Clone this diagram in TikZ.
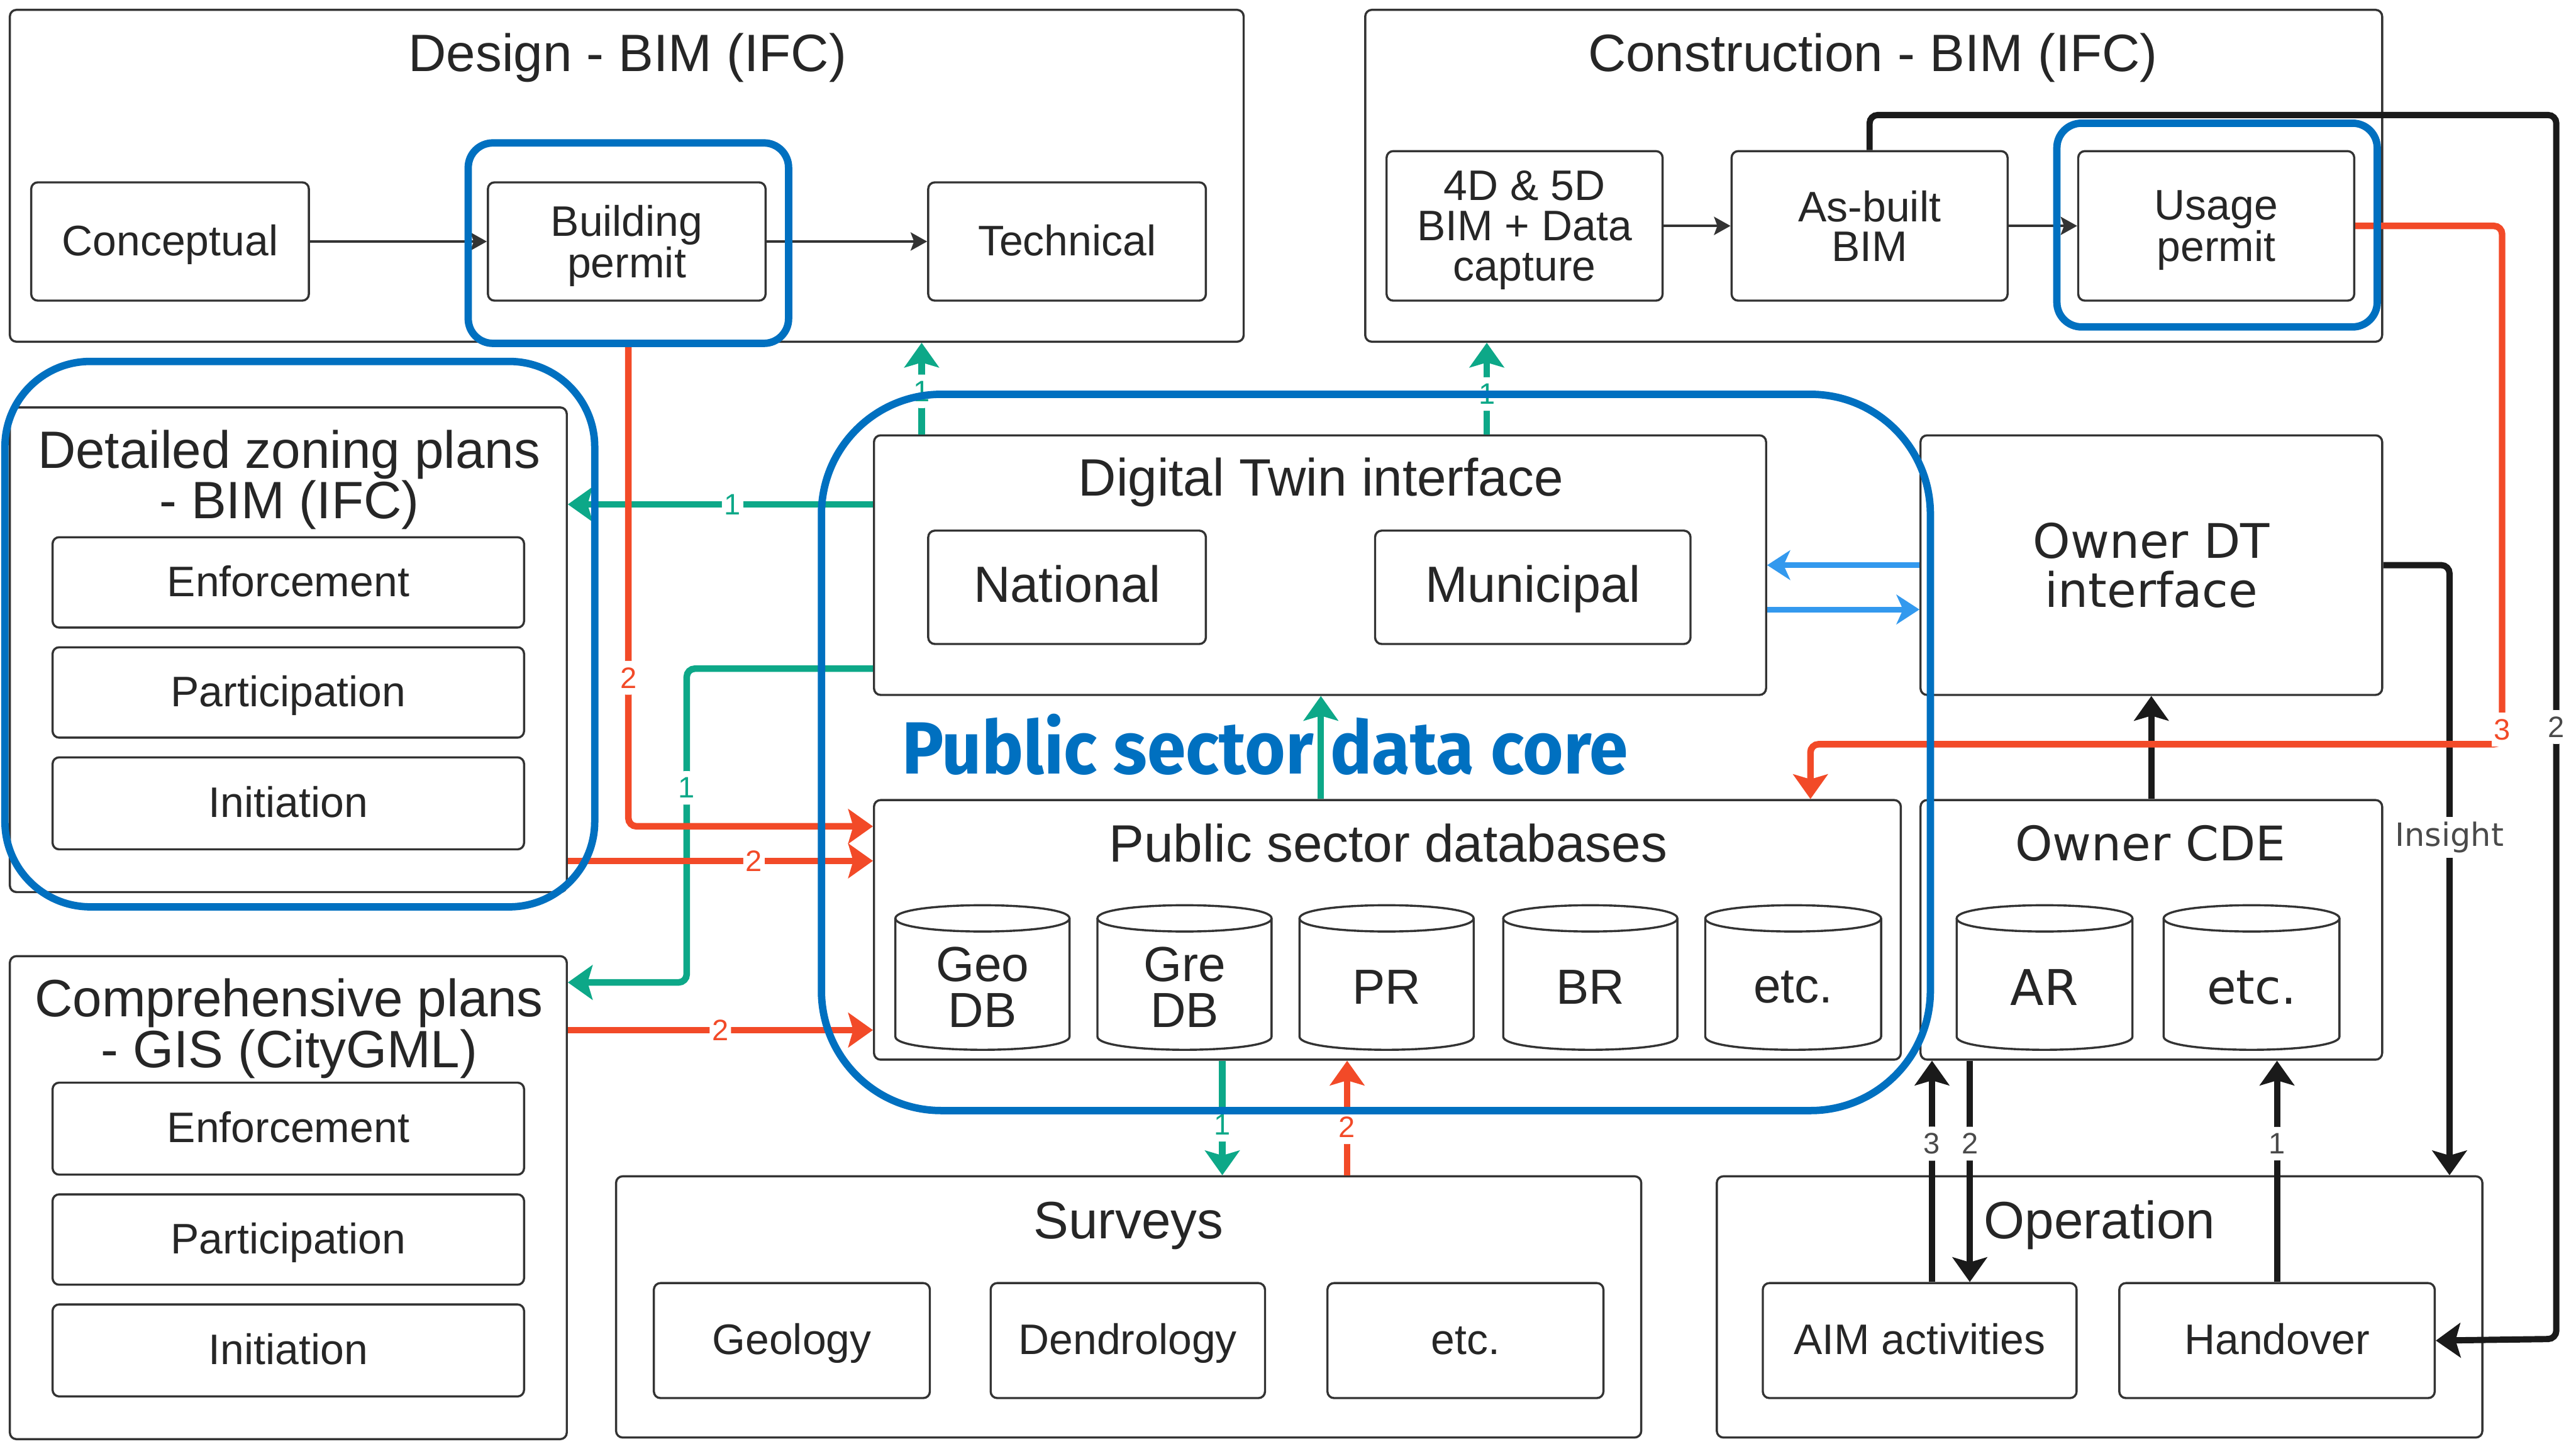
\documentclass[tikz,border=0pt]{standalone}
\usepackage{fontspec}
\usepackage{graphicx}
\setmainfont{Liberation Sans}
\newfontfamily\ownerfont{DejaVu Sans}
\newfontfamily\corefont{Fira Sans}
\usetikzlibrary{arrows.meta}

\definecolor{boxline}{HTML}{333333}
\definecolor{txt}{HTML}{262626}
\definecolor{hlblue}{HTML}{0070C0}
\definecolor{flowgreen}{HTML}{0DA888}
\definecolor{flowred}{HTML}{F24A28}
\definecolor{linkblue}{HTML}{3399EE}
\definecolor{flowblack}{HTML}{1A1A1A}
\definecolor{numgray}{HTML}{4A4A4A}

\pgfdeclarelayer{front}
\pgfsetlayers{main,front}

\tikzset{
  panel/.style={draw=boxline, line width=1.3pt, rounded corners=4pt, inner sep=0pt,
    align=center, text=txt, font=\fontsize{26}{24}\selectfont},
  oneline/.style={text height=21pt, text depth=4pt},
  nodepth/.style={text depth=0pt},
  hilite/.style={draw=hlblue, line width=4.5pt, rounded corners=#1},
  ttl/.style={text=txt, inner sep=0pt, align=center, font=\fontsize{32}{29}\selectfont},
  cylline/.style={draw=boxline, line width=1.3pt},
  cyltext/.style={text=txt, inner sep=0pt, align=center, font=\fontsize{30}{28}\selectfont},
  bigtip/.style={-{Stealth[length=15pt,width=21pt,inset=3pt]}},
  greenflow/.style={draw=flowgreen, line width=4pt, rounded corners=5pt, bigtip},
  redflow/.style={draw=flowred, line width=4pt, rounded corners=5pt, bigtip},
  blackflow/.style={draw=flowblack, line width=3.8pt, rounded corners=5pt, bigtip},
  blueflow/.style={draw=linkblue, line width=3.5pt, -{Stealth[length=14pt,width=18pt,inset=4pt]}},
  thinflow/.style={draw=boxline, line width=1.7pt, -{Stealth[length=10pt,width=11pt,inset=2pt]}},
  numlbl/.style={fill=white, inner xsep=1.5pt, inner ysep=4pt, font=\fontsize{18}{18}\selectfont},
}

% rounded box given by its corners: [style]{name}{x1}{y1}{x2}{y2}{text}
\newcommand\panelbox[7][]{%
  \pgfmathsetmacro\pbw{#5-#3}%
  \pgfmathsetmacro\pbh{#6-#4}%
  \pgfmathsetmacro\pbx{(#3+#5)/2}%
  \pgfmathsetmacro\pby{(#4+#6)/2}%
  \node[panel, minimum width=\pbw pt, minimum height=\pbh pt, #1] (#2) at (\pbx,\pby) {#7};%
}

% database cylinder: [text style]{name}{x1}{y1}{x2}{y2}{text}
\newcommand\dbcyl[7][]{%
  \pgfmathsetmacro\cxa{#3}%
  \pgfmathsetmacro\cxb{#5}%
  \pgfmathsetmacro\cya{#4+8}%
  \pgfmathsetmacro\cyb{#6-8}%
  \pgfmathsetmacro\cyk{32/3}%
  \pgfmathsetmacro\cxm{(#3+#5)/2}%
  \pgfmathsetmacro\cym{(#4+#6)/2+6}%
  \draw[cylline] (\cxa,\cya) .. controls (\cxa,\cya-\cyk) and (\cxb,\cya-\cyk) .. (\cxb,\cya)
     .. controls (\cxb,\cya+\cyk) and (\cxa,\cya+\cyk) .. (\cxa,\cya) -- cycle;
  \draw[cylline] (\cxa,\cya) -- (\cxa,\cyb) .. controls (\cxa,\cyb+\cyk) and (\cxb,\cyb+\cyk) .. (\cxb,\cyb) -- (\cxb,\cya);
  \node[cyltext, #1] (#2) at (\cxm,\cym) {#7};%
}

\begin{document}
\begin{tikzpicture}[x=1pt, y=-1pt]
\fill[white] (0,0) rectangle (1568,882);
\useasboundingbox (0,0) rectangle (1568,882);

% ---------- design phase ----------
\panelbox{design}{6}{6}{757}{208}{}
\node[ttl, anchor=base] (designT) at (382,43.5) {Design - BIM (IFC)};
\panelbox[oneline]{concept}{19}{111}{188}{183}{Conceptual}
\panelbox[nodepth]{bperm}{297}{111}{466}{183}{Building\\permit}
\panelbox[oneline]{tech}{565}{111}{734}{183}{Technical}

% ---------- construction phase ----------
\panelbox{constr}{831}{6}{1450}{208}{}
\node[ttl, anchor=base] (constrT) at (1140,43.5) {Construction - BIM (IFC)};
\panelbox[nodepth, font=\fontsize{26}{24.5}\selectfont]{cap4d}{844}{92}{1012}{183}{4D \& 5D\\BIM + Data\\capture}
\panelbox{asbuilt}{1054}{92}{1222}{183}{As-built\\BIM}
\panelbox[nodepth]{usage}{1265}{92}{1433}{183}{Usage\\permit}

% ---------- detailed zoning plans ----------
\panelbox{zoning}{6}{248}{345}{543}{}
\node[ttl] (zoningT) at (176,292) {Detailed zoning plans\\- BIM (IFC)};
\panelbox[oneline]{zenf}{32}{327}{319}{382}{Enforcement}
\panelbox[oneline]{zpar}{32}{394}{319}{449}{Participation}
\panelbox[oneline]{zini}{32}{461}{319}{517}{Initiation}

% ---------- comprehensive plans ----------
\panelbox{comp}{6}{582}{345}{876}{}
\node[ttl] (compT) at (176,626) {Comprehensive plans\\- GIS (CityGML)};
\panelbox[oneline]{cenf}{32}{659}{319}{715}{Enforcement}
\panelbox[oneline]{cpar}{32}{727}{319}{782}{Participation}
\panelbox[oneline]{cini}{32}{794}{319}{850}{Initiation}

% ---------- digital twin interface ----------
\panelbox{dti}{532}{265}{1075}{423}{}
\node[ttl, anchor=base] (dtiT) at (804,302) {Digital Twin interface};
\panelbox[font=\fontsize{31}{31}\selectfont, text height=24pt, text depth=6pt]{national}{565}{323}{734}{392}{National}
\panelbox[font=\fontsize{31}{31}\selectfont, text height=24pt, text depth=6pt]{municipal}{837}{323}{1029}{392}{Municipal}

% ---------- public sector databases ----------
\panelbox{psdb}{532}{487}{1157}{645}{}
\node[ttl, anchor=base] (psdbT) at (845,524.5) {Public sector databases};
\dbcyl{geodb}{545}{551}{651}{639}{Geo\\DB}
\dbcyl{gredb}{668}{551}{774}{639}{Gre\\DB}
\dbcyl{prdb}{791}{551}{897}{639}{PR}
\dbcyl{brdb}{915}{551}{1021}{639}{BR}
\dbcyl{etcdb}{1038}{551}{1145}{639}{etc.}

\node[anchor=base, inner sep=0pt, text=hlblue] (coreT) at (770,471)
  {\resizebox{442pt}{\height}{\corefont\bfseries\fontsize{45}{45}\selectfont Public sector data core}};

% ---------- owner side ----------
\panelbox[font=\ownerfont\fontsize{29}{30}\selectfont]{ownerdt}{1169}{265}{1450}{423}{Owner DT\\interface}
\panelbox{ownercde}{1169}{487}{1450}{645}{}
\node[ttl, anchor=base, font=\ownerfont\fontsize{29}{29}\selectfont] (ownercdeT) at (1309,524) {Owner CDE};
\dbcyl[font=\ownerfont\fontsize{30}{28}\selectfont]{ardb}{1191}{551}{1298}{639}{AR}
\dbcyl[font=\ownerfont\fontsize{29}{28}\selectfont]{owetc}{1317}{551}{1424}{639}{etc.}

% ---------- surveys ----------
\panelbox{surveys}{375}{716}{999}{875}{}
\node[ttl, anchor=base] (surveysT) at (687,754) {Surveys};
\panelbox[oneline]{geology}{398}{781}{566}{851}{Geology}
\panelbox[oneline]{dendro}{603}{781}{770}{851}{Dendrology}
\panelbox[oneline]{survetc}{808}{781}{976}{851}{etc.}

% ---------- operation ----------
\panelbox{operation}{1045}{716}{1511}{875}{}
\node[ttl, anchor=base] (operationT) at (1278,754) {Operation};
\panelbox[oneline]{aim}{1073}{781}{1264}{851}{AIM activities}
\panelbox[oneline]{handover}{1290}{781}{1482}{851}{Handover}

% ---------- blue highlight frames ----------
\begin{pgfonlayer}{front}
\panelbox[hilite=15pt]{bphl}{285}{87}{480}{209}{}
\panelbox[hilite=15pt]{usagehl}{1252}{75}{1447}{199}{}
\panelbox[hilite=52pt]{zoninghl}{3}{220}{362}{552}{}
\panelbox[hilite=73pt]{corehl}{500}{240}{1175}{676}{}
\end{pgfonlayer}

% ---------- process chains ----------
\draw[thinflow] (concept.east) -- (bperm.west);
\draw[thinflow] (bperm.east) -- (tech.west);
\draw[thinflow] (cap4d.east) -- (asbuilt.west);
\draw[thinflow] (asbuilt.east) -- (usage.west);

% ---------- black flows ----------
\coordinate (loopNE) at (1556,70);
\coordinate (loopSE) at (1556,815);
\draw[blackflow] (asbuilt.north) |- (loopNE) -- node[numlbl, text=numgray]{2} (loopSE) -- (handover.east);

\coordinate (insightX) at (1491,344);
\draw[blackflow] (ownerdt.east) -- (insightX) -- (operation.north -| insightX);
\node[fill=white, inner xsep=1pt, inner ysep=3pt, anchor=base, text=numgray,
      font=\ownerfont\fontsize{19.5}{19.5}\selectfont] (insight) at (1491,515) {Insight};

\draw[blackflow] (ownercde.north) -- (ownerdt.south);

\draw[blackflow] (aim.north -| 1176,0) -- node[numlbl, text=numgray, pos=0.625]{3} (ownercde.south -| 1176,0);
\draw[blackflow] (ownercde.south -| 1199,0) -- node[numlbl, text=numgray, pos=0.375]{2} (aim.north -| 1199,0);
\draw[blackflow] (handover.north) -- node[numlbl, text=numgray, pos=0.625]{1} (ownercde.south -| handover.north);

% ---------- blue links ----------
\draw[blueflow] (ownerdt.west |- 0,344) -- (dti.east |- 0,344);
\draw[blueflow] (dti.east |- 0,371) -- (ownerdt.west |- 0,371);

% ---------- green flows ----------
\draw[greenflow] (psdb.north -| 804,0) -- (dti.south -| 804,0);
\draw[greenflow] (dti.north -| 561,0) -- node[numlbl, text=flowgreen, pos=0.47]{1} (design.south -| 561,0);
\draw[greenflow] (dti.north -| 905,0) -- node[numlbl, text=flowgreen, pos=0.44]{1} (constr.south -| 905,0);
\draw[greenflow] (dti.west |- 0,307) -- node[numlbl, text=flowgreen, pos=0.46]{1} (zoning.east |- 0,307);
\coordinate (gA) at (418,407);
\coordinate (gB) at (418,598);
\draw[greenflow] (dti.west |- gA) -- (gA) -- node[numlbl, text=flowgreen, pos=0.38]{1} (gB) -- (comp.east |- gB);
\draw[greenflow] (psdb.south -| 744,0) -- node[numlbl, text=flowgreen, pos=0.56]{1} (surveys.north -| 744,0);

% ---------- red flows ----------
\coordinate (rA) at (382.5,503);
\draw[redflow] (bphl.south) -- node[numlbl, text=flowred, pos=0.69]{2} (rA) -- (psdb.west |- rA);
\draw[redflow] (zoning.east |- 0,524) -- node[numlbl, text=flowred, pos=0.61]{2} (psdb.west |- 0,524);
\draw[redflow] (comp.east |- 0,627) -- node[numlbl, text=flowred, pos=0.5]{2} (psdb.west |- 0,627);
\draw[redflow] (surveys.north -| 820,0) -- node[numlbl, text=flowred, pos=0.42]{2} (psdb.south -| 820,0);

\coordinate (redNE) at (1523,137.5);
\coordinate (redSE) at (1523,453);
\coordinate (redSW) at (1102,453);
\draw[redflow] (usage.east) -- (redNE) -- (redSE) -- (redSW) -- (psdb.north -| redSW);
\node[numlbl, text=flowred] (lblthree) at (1523,444) {3};

\end{tikzpicture}
\end{document}
